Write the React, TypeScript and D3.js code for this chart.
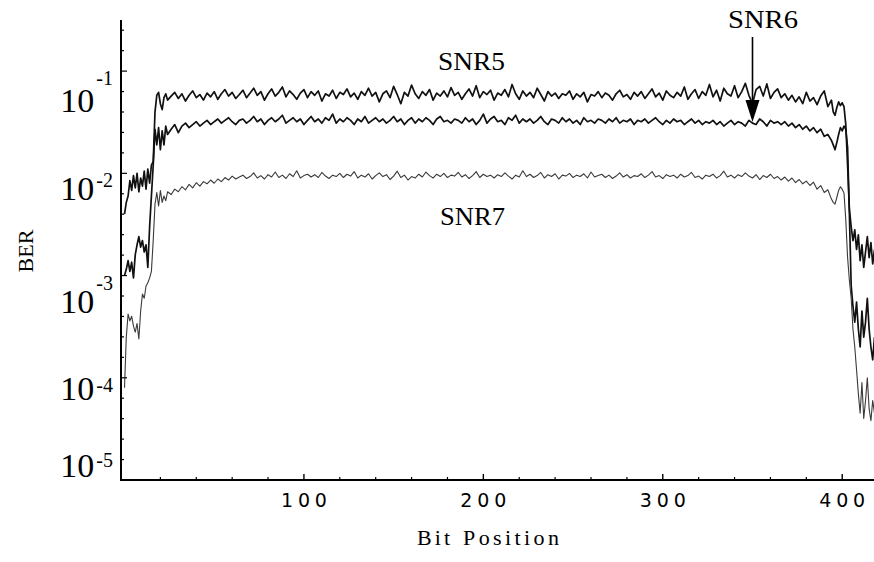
import React from "react";
import * as d3 from "d3";

// Bit positions (x categories): every bit at both edges, every second bit on the plateau
const BITS: number[] = [
  ...d3.range(0, 25),
  ...d3.range(26, 395, 2),
  ...d3.range(395, 419),
];

// BER values, in units of 1e-3
const SNR5_PERMILLE: number[] = [
  4.0, 5.2, 6.0, 8.5, 6.8, 9.5, 7.2, 10.0, 6.6, 9.0, 7.5, 10.5, 7.0, 11.0, 8.0, 12.0, 13.0, 40, 58, 62, 48, 42, 55, 60, 52,
  57, 62, 54, 60, 51, 58, 64, 55, 59, 52,
  61, 56, 63, 53, 60, 66, 57, 62, 54, 59,
  65, 55, 61, 68, 58, 63, 52, 60, 67, 57,
  62, 70, 56, 64, 59, 53, 61, 66, 55, 63,
  58, 64, 51, 60, 57, 65, 54, 62, 59, 67,
  56, 61, 53, 63, 58, 68, 57, 62, 50, 60,
  64, 55, 71, 59, 48, 62, 57, 73, 60, 54,
  63, 58, 66, 52, 61, 57, 64, 56, 69, 58,
  62, 53, 60, 67, 57, 72, 55, 63, 59, 65,
  52, 61, 58, 66, 56, 74, 60, 53, 64, 57,
  62, 55, 68, 59, 51, 63, 57, 61, 54, 60,
  58, 64, 53, 60, 56, 62, 50, 59, 57, 63,
  55, 61, 58, 52, 60, 65, 56, 59, 53, 62,
  57, 63, 54, 60, 67, 56, 61, 52, 64, 58,
  55, 62, 57, 70, 53, 60, 66, 54, 63, 58,
  74, 56, 65, 51, 68, 60, 57, 72, 55, 63,
  76, 58, 48, 66, 71, 57, 75, 54, 62, 67,
  55, 60, 52, 58, 50, 56, 48, 62, 51, 55,
  47, 57, 64, 45, 52,
  40, 37, 44, 50, 46, 49, 45, 30, 12, 4.5, 3.0, 2.2, 2.8, 1.8, 2.5, 1.4, 2.0, 1.2, 1.7, 2.4, 1.5, 2.1, 1.3, 1.8,
];

const SNR6_PERMILLE: number[] = [
  1.0, 1.15, 1.4, 1.1, 1.35, 0.95, 1.6, 2.0, 2.4, 1.9, 2.2, 1.7, 2.0, 1.2, 3.0, 6.0, 12, 27, 19, 28, 17, 26, 19, 29, 24,
  27, 30, 25, 29, 31, 28, 30, 32, 29, 31,
  33, 30, 32, 34, 31, 33, 35, 32, 30, 33,
  34, 31, 33, 36, 32, 34, 30, 33, 35, 32,
  34, 37, 31, 33, 35, 32, 34, 30, 33, 36,
  32, 34, 31, 35, 33, 38, 31, 34, 32, 35,
  33, 30, 34, 32, 36, 31, 33, 35, 32, 34,
  31, 33, 36, 32, 34, 30, 33, 35, 31, 34,
  32, 35, 33, 30, 34, 36, 32, 33, 31, 34,
  33, 31, 35, 32, 34, 30, 33, 38, 31, 34,
  36, 32, 33, 30, 35, 33, 37, 31, 34, 32,
  34, 31, 33, 36, 32, 30, 34, 33, 31, 35,
  32, 34, 31, 33, 30, 35, 32, 33, 31, 34,
  33, 31, 34, 32, 35, 31, 33, 32, 34, 30,
  33, 32, 34, 31, 33, 35, 32, 30, 33, 31,
  34, 32, 33, 30, 32, 34, 31, 33, 30, 32,
  31, 33, 30, 32, 29, 31, 33, 30, 32, 31,
  29, 33, 31, 30, 34, 32, 29, 33, 31, 32,
  30, 32, 29, 31, 28, 30, 27, 29, 26, 28,
  25, 27, 23, 24, 21,
  19, 17, 20, 24, 28, 26, 29, 27, 18, 4, 0.8, 0.5, 0.35, 0.55, 0.3, 0.2, 0.45, 0.25, 0.35, 0.6, 0.3, 0.2, 0.15, 0.25,
];

const SNR7_PERMILLE: number[] = [
  0.08, 0.25, 0.42, 0.36, 0.4, 0.32, 0.28, 0.34, 0.24, 0.45, 0.66, 0.6, 0.79, 0.85, 0.95, 1.1, 2.2, 5.0, 6.5, 4.8, 6.8, 5.2, 6.0, 5.4, 6.6,
  6.2, 7.0, 6.6, 7.4, 6.9, 7.8, 7.2, 8.1, 7.5, 8.3,
  7.9, 8.6, 8.0, 8.8, 8.3, 9.1, 8.6, 9.4, 8.8, 9.2,
  9.6, 8.9, 9.3, 10.1, 9.0, 9.5, 8.8, 9.7, 9.2, 10.3,
  9.1, 9.6, 8.9, 9.9, 9.3, 10.6, 9.0, 9.5, 9.8, 9.2,
  9.7, 9.1, 10.2, 9.4, 8.9, 9.6, 9.3, 10.0, 9.1, 9.8,
  9.4, 10.4, 9.0, 9.6, 9.2, 9.9, 8.8, 9.5, 10.1, 9.3,
  9.7, 8.7, 9.4, 10.5, 9.1, 9.6, 8.6, 9.3, 9.0, 9.8,
  9.2, 10.3, 9.5, 9.0, 9.8, 9.3, 10.0, 9.1, 9.6, 9.4,
  10.2, 9.2, 9.7, 8.9, 9.5, 10.4, 9.1, 9.8, 9.3, 9.6,
  9.0, 9.7, 9.3, 10.1, 9.4, 8.8, 9.6, 9.2, 10.6, 9.3,
  9.8, 9.1, 9.5, 10.2, 9.0, 9.7, 9.3, 9.9, 8.8, 9.6,
  9.4, 10.0, 9.1, 9.6, 9.3, 9.9, 9.0, 10.3, 9.2, 9.5,
  9.8, 9.1, 9.6, 8.9, 9.4, 10.1, 9.2, 9.7, 9.0, 9.5,
  9.3, 9.9, 9.1, 9.6, 10.4, 9.2, 9.5, 8.9, 9.7, 9.3,
  9.6, 9.0, 9.8, 9.2, 9.5, 10.2, 9.1, 9.4, 8.8, 9.6,
  9.3, 9.8, 9.0, 9.5, 10.5, 9.2, 9.6, 9.0, 9.7, 9.3,
  10.1, 9.4, 9.0, 9.7, 8.7, 9.5, 9.1, 9.8, 8.9, 9.3,
  8.6, 9.2, 8.4, 9.0, 8.1, 8.7, 7.9, 8.4, 7.6, 8.2,
  7.0, 7.6, 6.5, 6.9, 5.6,
  5.2, 5.0, 5.8, 6.8, 7.4, 7.0, 6.4, 3.5, 1.5, 0.9, 0.6, 0.3, 0.2, 0.12, 0.07, 0.045, 0.09, 0.04, 0.06, 0.1, 0.05, 0.038, 0.06, 0.045,
];

const X_MAJOR_TICKS = [100, 200, 300, 400];
const X_TICK_STEP = 20;
const Y_DECADES = [-1, -2, -3, -4, -5];
const SERIES_NAMES = ["SNR5", "SNR6", "SNR7"];
const ARROW_BIT = 350;

// layout
const W = 874;
const H = 562;
const AXIS_X = 121;
const AXIS_TOP = 20;
const AXIS_BOTTOM = 480;
const SUP_RAISE: Record<string, number> = { "-1": 27, "-2": 13, "-3": 23, "-4": 8, "-5": 10 };
const SERIF = "'Liberation Serif', 'DejaVu Serif', serif";
const SANS = "'DejaVu Sans', 'Liberation Sans', sans-serif";

export default function App() {
  const x = d3.scaleLinear().domain([0, 418]).range([124.5, 874.5]);
  const y = d3.scaleLog().domain([1e-5, Math.pow(10, -0.5)]).range([AXIS_BOTTOM, AXIS_TOP]);

  const seriesVals = [SNR5_PERMILLE, SNR6_PERMILLE, SNR7_PERMILLE];
  const series = seriesVals.map((vals, i) => ({
    name: SERIES_NAMES[i],
    pts: BITS.map((b, j) => ({ b, v: vals[j] / 1000 })).filter((p) => p.v !== undefined && !isNaN(p.v)),
  }));

  const line = d3
    .line<{ b: number; v: number }>()
    .x((d) => x(d.b))
    .y((d) => y(d.v));

  const yMinor = d3.range(0, 23).map((k) => -5 + k * 0.2);
  const xMinor = d3.range(X_TICK_STEP, 420, X_TICK_STEP).filter((t) => !X_MAJOR_TICKS.includes(t));

  const arrowIdx = BITS.indexOf(ARROW_BIT);
  const arrowTipY = y(SNR6_PERMILLE[arrowIdx] / 1000) - 1;
  const ax = x(ARROW_BIT);

  return (
    <svg
      width={W}
      height={H}
      viewBox={`0 0 ${W} ${H}`}
      style={{ position: "absolute", left: 0, top: 0, background: "#fff" }}
    >
      <rect x={0} y={0} width={W} height={H} fill="#fff" />

      {/* series */}
      {series.map((s, i) => (
        <path
          key={s.name}
          d={line(s.pts) || ""}
          fill="none"
          stroke={i === 2 ? "#3a3a3a" : "#111"}
          strokeWidth={i === 2 ? 1.1 : 1.7}
          strokeLinejoin="round"
        />
      ))}

      {/* axes */}
      <line x1={AXIS_X} x2={AXIS_X} y1={AXIS_TOP} y2={AXIS_BOTTOM + 1} stroke="#000" strokeWidth={2} />
      <line x1={AXIS_X - 1} x2={W} y1={AXIS_BOTTOM} y2={AXIS_BOTTOM} stroke="#000" strokeWidth={2} />

      {/* y ticks */}
      {yMinor.map((e, k) => {
        const isMajor = Math.abs(e - Math.round(e)) < 1e-6;
        const yy = y(Math.pow(10, e));
        return (
          <line key={k} x1={AXIS_X} x2={AXIS_X + (isMajor ? 6 : 3)} y1={yy} y2={yy} stroke="#000" strokeWidth={1.2} />
        );
      })}
      {Y_DECADES.map((e) => {
        const raise = SUP_RAISE[String(e)];
        const base = Math.min(y(Math.pow(10, e)) + 14 + raise, 477);
        return (
          <text key={e} x={113} y={base} textAnchor="end" fontFamily={SERIF} fontSize={34} fill="#000">
            10
            <tspan fontSize={20} dx={2} dy={-raise}>
              -{Math.abs(e)}
            </tspan>
          </text>
        );
      })}

      {/* x ticks */}
      {xMinor.map((t) => (
        <line key={t} x1={x(t)} x2={x(t)} y1={AXIS_BOTTOM} y2={AXIS_BOTTOM - 3} stroke="#000" strokeWidth={1.2} />
      ))}
      {X_MAJOR_TICKS.map((t) => (
        <g key={t}>
          <line x1={x(t)} x2={x(t)} y1={AXIS_BOTTOM} y2={AXIS_BOTTOM - 6} stroke="#000" strokeWidth={1.4} />
          <text
            x={x(t) - 23}
            y={507}
            fontFamily={SANS}
            fontSize={19}
            textLength={46}
            lengthAdjust="spacing"
            fill="#000"
          >
            {t}
          </text>
        </g>
      ))}

      {/* axis titles */}
      <text
        transform="translate(33,251) rotate(-90)"
        textAnchor="middle"
        fontFamily={SERIF}
        fontSize={22}
        fill="#000"
      >
        BER
      </text>
      <text x={417} y={545} fontFamily={SERIF} fontSize={22} textLength={33} lengthAdjust="spacing" fill="#000">
        Bit
      </text>
      <text x={463} y={545} fontFamily={SERIF} fontSize={22} textLength={96} lengthAdjust="spacing" fill="#000">
        Position
      </text>

      {/* series labels */}
      <text x={438} y={70} fontFamily={SERIF} fontSize={25} textLength={67} lengthAdjust="spacingAndGlyphs" fill="#000">
        {SERIES_NAMES[0]}
      </text>
      <text x={728} y={28} fontFamily={SERIF} fontSize={25} textLength={70} lengthAdjust="spacingAndGlyphs" fill="#000">
        {SERIES_NAMES[1]}
      </text>
      <text x={440} y={225} fontFamily={SERIF} fontSize={25} textLength={65} lengthAdjust="spacingAndGlyphs" fill="#000">
        {SERIES_NAMES[2]}
      </text>

      {/* arrow to SNR6 */}
      <line x1={ax} x2={ax} y1={37} y2={arrowTipY - 18} stroke="#000" strokeWidth={1.6} />
      <path
        d={`M${ax - 7},${arrowTipY - 22} L${ax + 7},${arrowTipY - 22} L${ax},${arrowTipY} Z`}
        fill="#000"
      />
    </svg>
  );
}
